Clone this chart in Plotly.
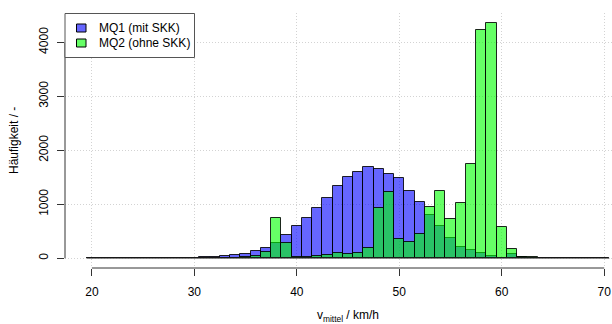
import plotly.graph_objects as go

speeds = list(range(20, 71))
mq1 = [2, 3, 6, 8, 8, 8, 6, 5, 6, 8, 12, 18, 25, 37, 61, 80, 135, 185, 278, 426,
       604, 741, 926, 1111, 1339, 1500, 1595, 1691, 1648, 1556, 1481, 1237, 1049, 800, 596, 370,
       215, 154, 93, 37, 12, 74, 32, 10, 4, 3, 6, 5, 2, 1, 0]
mq2 = [0, 0, 0, 0, 0, 1, 1, 1, 1, 2, 3, 4, 5, 8, 6, 18, 43, 120, 741, 278,
       30, 18, 37, 56, 98, 77, 105, 185, 935, 1228, 352, 296, 444, 944, 1246, 722,
       1025, 1746, 4233, 4363, 580, 167, 28, 18, 6, 3, 1, 1, 0, 0, 0]
xticks = [20, 30, 40, 50, 60, 70]
yticks = [0, 1000, 2000, 3000, 4000]
names = ["MQ1 (mit SKK)", "MQ2 (ohne SKK)"]
colors = ["rgba(0,0,255,0.6)", "rgba(0,255,0,0.6)"]

FONT = "Liberation Sans, Arial, sans-serif"
L, T, PW, PH = 65, 13, 547, 255  # plot area in pixels


def px(xp):
    return (xp - L) / PW


def py(yp):
    return 1 - (yp - T) / PH


fig = go.Figure()
for name, vals, col in zip(names, [mq1, mq2], colors):
    fig.add_trace(go.Bar(x=speeds, y=vals, width=1, name=name, showlegend=False,
                         marker=dict(color=col, line=dict(color="rgba(0,0,0,0.85)", width=1))))

shapes = [
    dict(type="line", xref="x", yref="y", x0=19.5, x1=70.5, y0=0, y1=0,
         line=dict(color="#666666", width=1), layer="above"),
    dict(type="line", xref="x", yref="paper", x0=xticks[0], x1=xticks[-1], y0=0, y1=0,
         line=dict(color="#333333", width=1)),
    dict(type="line", xref="paper", yref="y", x0=0, x1=0, y0=yticks[0], y1=yticks[-1],
         line=dict(color="#333333", width=1)),
    # legend box
    dict(type="rect", xref="paper", yref="paper", x0=px(65), x1=px(194.5), y0=py(57.5), y1=py(13.5),
         fillcolor="white", line=dict(color="#555555", width=1), layer="above"),
]
annotations = [
    dict(text="v<sub>mittel</sub> / km/h", xref="paper", yref="paper",
         x=px(348), y=py(316), xanchor="center", yanchor="middle",
         showarrow=False, font=dict(size=12)),
    dict(text="Häufigkeit / -", xref="paper", yref="paper",
         x=px(14), y=py(141), xanchor="center", yanchor="middle", textangle=-90,
         showarrow=False, font=dict(size=12)),
]
for i, (name, col) in enumerate(zip(names, colors)):
    yc = 28 + 15 * i
    shapes.append(dict(type="rect", xref="paper", yref="paper", x0=px(76.5), x1=px(86),
                       y0=py(yc + 4), y1=py(yc - 4), fillcolor=col,
                       line=dict(color="black", width=1), layer="above"))
    annotations.append(dict(text=name, xref="paper", yref="paper", x=px(96.5), y=py(yc),
                            xanchor="left", yanchor="middle", showarrow=False,
                            font=dict(size=12)))

fig.update_layout(
    width=612, height=324,
    margin=dict(l=L, r=612 - L - PW, t=T, b=324 - T - PH, autoexpand=False),
    paper_bgcolor="white", plot_bgcolor="white",
    barmode="overlay", bargap=0,
    font=dict(family=FONT, size=12, color="black"),
    shapes=shapes, annotations=annotations,
    showlegend=False,
    xaxis=dict(range=[17.375, 70.76], tickvals=xticks, ticktext=[str(v) for v in xticks],
               ticks="outside", ticklen=7, tickcolor="#333333", showline=False,
               showgrid=True, gridcolor="#d3d3d3", griddash="1px,2px", gridwidth=1,
               zeroline=False, automargin=False, ticklabelstandoff=6,
               tickfont=dict(size=12)),
    yaxis=dict(range=[-180, 4543], tickvals=yticks, ticktext=[str(v) for v in yticks],
               ticks="outside", ticklen=7, tickcolor="#333333", showline=False,
               showgrid=True, gridcolor="#d3d3d3", griddash="1px,2px", gridwidth=1,
               zeroline=False, tickangle=-90, automargin=False, ticklabelstandoff=4,
               tickfont=dict(size=12)),
)

fig.write_html("out.html", config={"displayModeBar": False},
               post_script="document.body.style.margin='0px';")
